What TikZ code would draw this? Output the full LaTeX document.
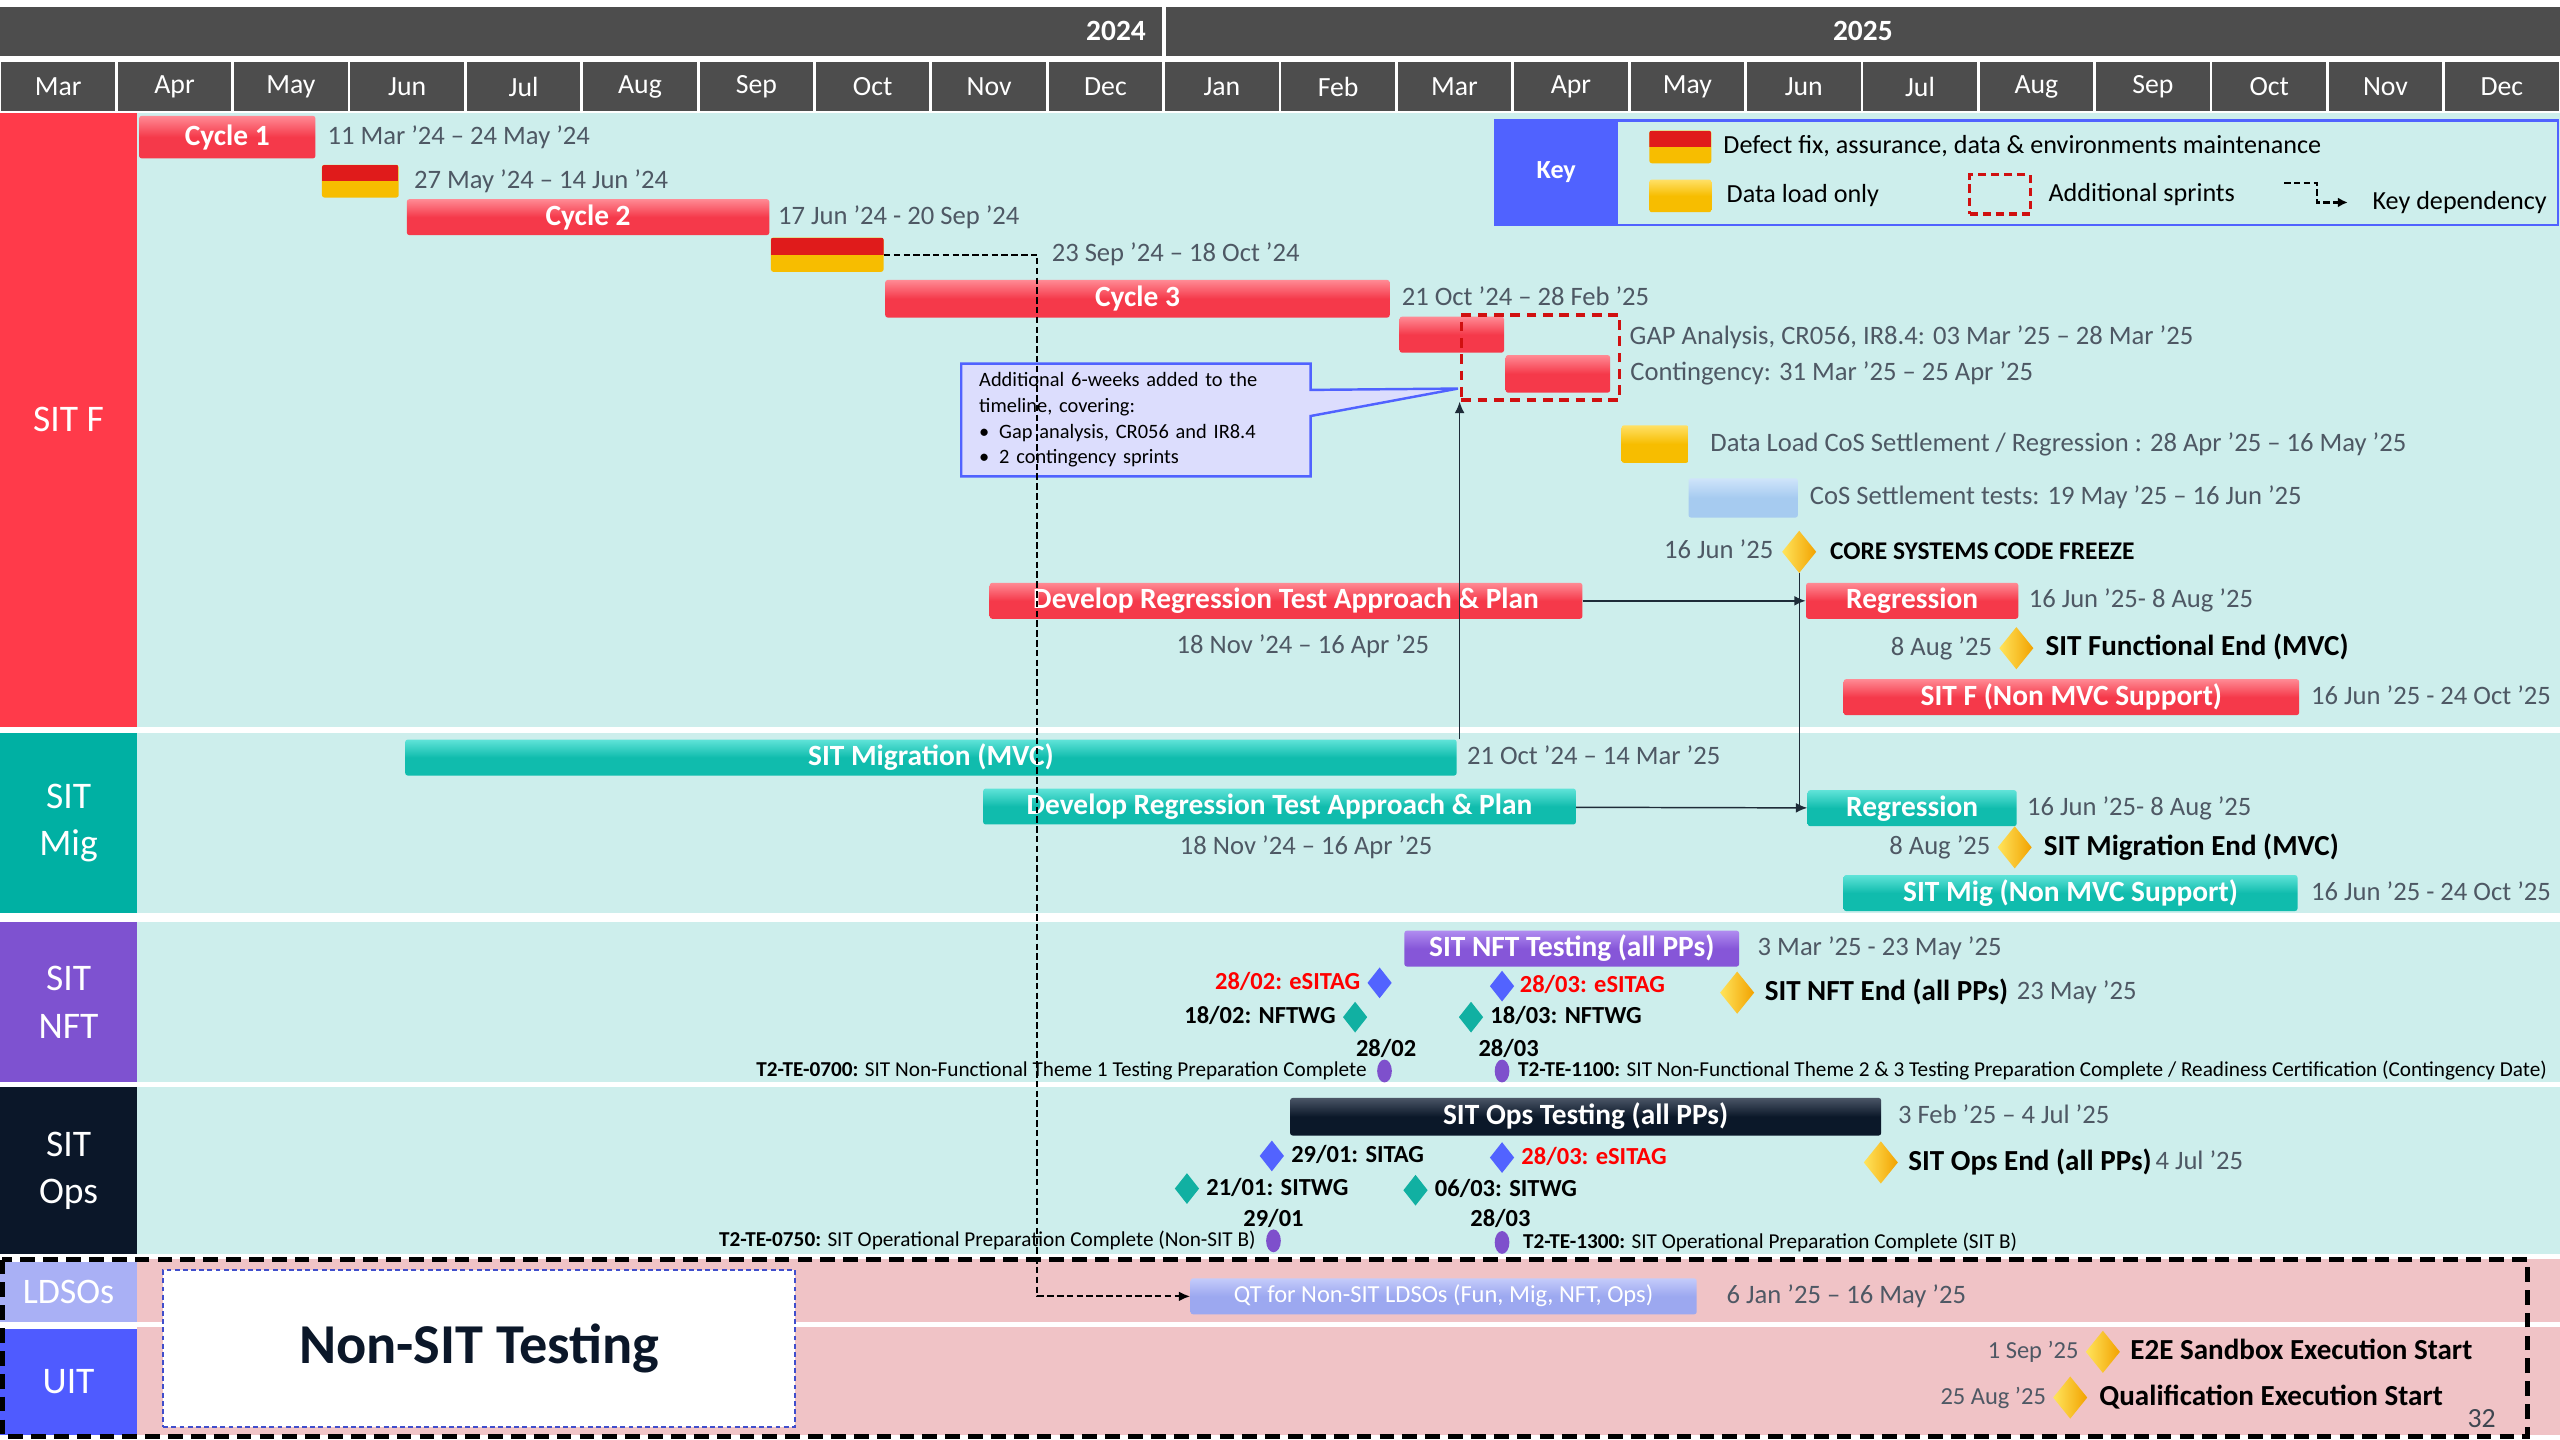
\documentclass[tikz,border=0pt]{standalone}
\usepackage{fontspec}
\setmainfont{Carlito}
\usepackage{tikz}
\usetikzlibrary{positioning, arrows.meta, shapes.geometric, shapes.callouts}

\definecolor{hdr}{HTML}{4D4D4D}
\definecolor{lane}{HTML}{CDEEEC}
\definecolor{pinklane}{HTML}{F0C3C6}
\definecolor{sitf}{HTML}{FF3A4A}
\definecolor{sitmig}{HTML}{00B0A3}
\definecolor{sitnft}{HTML}{7E52D0}
\definecolor{sitops}{HTML}{0B1729}
\definecolor{ldso}{HTML}{A9B0F5}
\definecolor{uit}{HTML}{4F5BFF}
\definecolor{rbarc}{HTML}{F5394A}
\definecolor{rbarlt}{HTML}{FF8A94}
\definecolor{tbarc}{HTML}{10BCAD}
\definecolor{tbarlt}{HTML}{5FE3D8}
\definecolor{pbarc}{HTML}{8656D8}
\definecolor{pbarlt}{HTML}{B08CF0}
\definecolor{obarc}{HTML}{0B1829}
\definecolor{obarlt}{HTML}{4A5566}
\definecolor{qbarc}{HTML}{9CA8F0}
\definecolor{qbarlt}{HTML}{C4CBFA}
\definecolor{cosc}{HTML}{A6CBF0}
\definecolor{coslt}{HTML}{CFE4FA}
\definecolor{dfred}{HTML}{E01B1B}
\definecolor{dfyel}{HTML}{F7BD00}
\definecolor{ylwlt}{HTML}{FFE066}
\definecolor{goldlt}{HTML}{FFE45C}
\definecolor{golddk}{HTML}{F2A200}
\definecolor{dgray}{HTML}{4E5864}
\definecolor{keyblue}{HTML}{5062FF}
\definecolor{notefill}{HTML}{DCDDFD}
\definecolor{msblue}{HTML}{5263FF}
\definecolor{msteal}{HTML}{11B0A2}
\definecolor{mspurp}{HTML}{7E50CC}
\definecolor{arrowc}{HTML}{1E2B38}
\definecolor{addred}{HTML}{D01010}

\begin{document}
\begin{tikzpicture}[x=1pt, y=-1pt, inner sep=0pt,
	month/.style={fill=hdr, text=white, minimum width=69.6pt, minimum height=30pt, font=\fontsize{17}{20}\selectfont},
	lanelab/.style={text=white, minimum width=84pt, align=center, font=\fontsize{23}{29}\selectfont},
	bar/.style={anchor=west, rounded corners=1.5pt, minimum height=22pt, text=white, text height=13.5pt, text depth=3.5pt, font=\fontsize{18}{20}\selectfont\bfseries},
	rbar/.style={bar, top color=rbarlt, bottom color=rbarc, middle color=rbarc},
	tbar/.style={bar, top color=tbarlt, bottom color=tbarc, middle color=tbarc},
	pbar/.style={bar, top color=pbarlt, bottom color=pbarc, middle color=pbarc},
	obar/.style={bar, top color=obarlt, bottom color=obarc, middle color=obarc},
	dfbar/.style={anchor=west, rounded corners=1.5pt, minimum height=20pt, fill=dfyel, path picture={\fill[dfred, sharp corners] (path picture bounding box.north west) rectangle (path picture bounding box.east);}},
	ylbar/.style={anchor=west, rounded corners=1.5pt, minimum height=21pt, top color=ylwlt, bottom color=dfyel, middle color=dfyel},
	date/.style={anchor=west, text=dgray, text height=11.5pt, text depth=3pt, font=\fontsize{16.3}{19}\selectfont},
	ms/.style={diamond, minimum width=21pt, minimum height=26pt, left color=goldlt, right color=golddk},
	msb/.style={diamond, minimum width=15pt, minimum height=19pt, fill=msblue},
	mst/.style={diamond, minimum width=15pt, minimum height=19pt, fill=msteal},
	mse/.style={ellipse, minimum width=9pt, minimum height=14pt, fill=mspurp},
	mstext/.style={text height=13pt, text depth=3.5pt, font=\fontsize{17.8}{20}\selectfont\bfseries},
	tag/.style={text height=11pt, text depth=3pt, font=\fontsize{15}{17}\selectfont\bfseries},
	tt/.style={text height=9.5pt, text depth=2.5pt, font=\fontsize{13}{15}\selectfont},
	dep/.style={draw=arrowc, line width=0.9pt, -{Latex[length=7pt, width=6pt]}}
]
	\fill[white] (0,0) rectangle (1568,882);
	\useasboundingbox (0,0) rectangle (1568,882);

	\node[fill=hdr, minimum width=711.5pt, minimum height=30pt, anchor=west] (yr24) at (0,19) {};
	\node[fill=hdr, minimum width=854pt, minimum height=30pt, anchor=west] (yr25) at (714,19) {};
	\node[text=white, font=\fontsize{18}{20}\selectfont\bfseries, anchor=east] (t24) at (702,19) {2024};
	\node[text=white, font=\fontsize{18}{20}\selectfont\bfseries] (t25) at (1141,19) {2025};

	\node[month] (m0) at (35.6,53) {Mar};
	\node[month] (m1) at (106.9,53) {Apr};
	\node[month] (m2) at (178.2,53) {May};
	\node[month] (m3) at (249.4,53) {Jun};
	\node[month] (m4) at (320.7,53) {Jul};
	\node[month] (m5) at (392.0,53) {Aug};
	\node[month] (m6) at (463.3,53) {Sep};
	\node[month] (m7) at (534.5,53) {Oct};
	\node[month] (m8) at (605.8,53) {Nov};
	\node[month] (m9) at (677.1,53) {Dec};
	\node[month] (m10) at (748.4,53) {Jan};
	\node[month] (m11) at (819.6,53) {Feb};
	\node[month] (m12) at (890.9,53) {Mar};
	\node[month] (m13) at (962.2,53) {Apr};
	\node[month] (m14) at (1033.5,53) {May};
	\node[month] (m15) at (1104.8,53) {Jun};
	\node[month] (m16) at (1176.0,53) {Jul};
	\node[month] (m17) at (1247.3,53) {Aug};
	\node[month] (m18) at (1318.6,53) {Sep};
	\node[month] (m19) at (1389.9,53) {Oct};
	\node[month] (m20) at (1461.1,53) {Nov};
	\node[month] (m21) at (1532.4,53) {Dec};

	\fill[lane] (84,69) rectangle (1568,445);
	\fill[lane] (84,449) rectangle (1568,559);
	\fill[lane] (84,565) rectangle (1568,663);
	\fill[lane] (84,666) rectangle (1568,768);
	\fill[pinklane] (84,771) rectangle (1568,810);
	\fill[pinklane] (84,813) rectangle (1568,879);
	\node[lanelab, fill=sitf, minimum height=376pt] (lf) at (42,257) {SIT F};
	\node[lanelab, fill=sitmig, minimum height=110pt] (lm) at (42,504) {SIT\\Mig};
	\node[lanelab, fill=sitnft, minimum height=98pt] (ln) at (42,614) {SIT\\NFT};
	\node[lanelab, fill=sitops, minimum height=102pt] (lo) at (42,717) {SIT\\Ops};
	\node[lanelab, fill=ldso, minimum height=37pt, font=\fontsize{22}{26}\selectfont] (ll) at (42,791.5) {LDSOs};
	\node[lanelab, fill=uit, minimum height=65pt] (lu) at (42,846.5) {UIT};
	\draw[line width=3pt, dash pattern=on 9pt off 5pt] (1.5,771.5) rectangle (1548,880);

	\node[draw=keyblue, line width=1.5pt, fill=lane, minimum width=651pt, minimum height=64pt, anchor=north west] (key) at (915,73) {};
	\node[fill=keyblue, minimum width=76pt, minimum height=64pt, anchor=north west, text=white, font=\fontsize{16}{18}\selectfont\bfseries] (keyl) at (915,73) {Key};
	\node[dfbar, minimum width=38pt] (kdf) at (1010,90) {};
	\node[date, text=black, font=\fontsize{16}{19}\selectfont, right=7pt of kdf] (kdft) {Defect fix, assurance, data \& environments maintenance};
	\node[ylbar, minimum width=38pt, minimum height=20pt] (kdl) at (1010,120) {};
	\node[date, text=black, font=\fontsize{16}{19}\selectfont, right=9pt of kdl] (kdlt) {Data load only};
	\node[draw=addred, dashed, dash pattern=on 5pt off 3pt, line width=2pt, minimum width=37pt, minimum height=24pt] (kadd) at (1225,119) {};
	\node[date, text=black, font=\fontsize{16}{19}\selectfont, right=10pt of kadd] (kaddt) {Additional sprints};
	\coordinate (kd1) at (1399,112);
	\coordinate (kd2) at (1438,124);
	\draw[line width=1.3pt, dash pattern=on 4pt off 2pt, -{Latex[length=6pt, width=6pt]}] (kd1) -- ++(20,0) |- (kd2);
	\node[date, text=black, font=\fontsize{16}{19}\selectfont, right=15pt of kd2] (kdt) {Key dependency};

	\node[rbar, minimum width=108pt, minimum height=26pt] (c1) at (85,84) {Cycle 1};
	\node[date, right=7pt of c1] (c1d) {11 Mar '24 -- 24 May '24};
	\node[dfbar, minimum width=47pt] (df1) at (197,111) {};
	\node[date, right=9pt of df1] (df1d) {27 May '24 -- 14 Jun '24};
	\node[rbar, minimum width=222pt] (c2) at (249,133) {Cycle 2};
	\node[date, right=5pt of c2] (c2d) {17 Jun '24 - 20 Sep '24};
	\node[dfbar, minimum width=69pt, minimum height=21pt] (df2) at (472,156) {};
	\node[date] (df2d) at (644,156) {23 Sep '24 -- 18 Oct '24};
	\node[rbar, minimum width=309pt, minimum height=23pt] (c3) at (542,183) {Cycle 3};
	\node[date, right=7pt of c3] (c3d) {21 Oct '24 -- 28 Feb '25};
	\node[rbar, minimum width=64pt] (gap) at (857,205) {};
	\node[date] (gapd) at (998,207) {GAP Analysis, CR056, IR8.4: 03 Mar '25 -- 28 Mar '25};
	\node[rbar, minimum width=64pt, minimum height=23pt] (cont) at (922,229) {};
	\node[date, right=12pt of cont] (contd) {Contingency: 31 Mar '25 -- 25 Apr '25};
	\node[draw=addred, dashed, dash pattern=on 6pt off 4pt, line width=2pt, minimum width=97pt, minimum height=52pt, anchor=north west] (addbox) at (894,192) {};
	\node[rectangle callout, callout absolute pointer={(893,238)}, callout pointer width=16pt, draw=keyblue, line width=1.5pt, fill=notefill, text width=192pt, minimum height=69pt, inner xsep=11pt, inner ysep=5pt, align=left, anchor=north west, font=\fontsize{12.5}{15.7}\selectfont] (note) at (588,222) {Additional 6-weeks added to the\\timeline, covering:\\\textbullet\hspace{6pt}Gap analysis, CR056 and IR8.4\\\textbullet\hspace{6pt}2 contingency sprints};
	\node[ylbar, minimum width=41pt, minimum height=23pt] (dl) at (993,272) {};
	\node[date, right=13pt of dl] (dld) {Data Load CoS Settlement / Regression : 28 Apr '25 -- 16 May '25};
	\node[anchor=west, rounded corners=1.5pt, minimum width=67pt, minimum height=24pt, top color=coslt, bottom color=cosc, middle color=cosc] (cos) at (1034,305) {};
	\node[date, right=7pt of cos] (cosd) {CoS Settlement tests: 19 May '25 -- 16 Jun '25};
	\node[ms] (freeze) at (1102,338) {};
	\node[date, left=5pt of freeze] (freezed) {16 Jun '25};
	\node[mstext, right=8pt of freeze, font=\fontsize{15.6}{18}\selectfont\bfseries] (freezet) {CORE SYSTEMS CODE FREEZE};
	\node[rbar, minimum width=363pt] (drf) at (606,368) {Develop Regression Test Approach \& Plan};
	\node[date, anchor=center] (drfd) at (798,396) {18 Nov '24 -- 16 Apr '25};
	\node[rbar, minimum width=130pt] (regf) at (1106,368) {Regression};
	\node[date, right=6pt of regf] (regfd) {16 Jun '25- 8 Aug '25};
	\node[ms] (endf) at (1235,397) {};
	\node[date, left=4pt of endf] (endfd) {8 Aug '25};
	\node[mstext, right=7pt of endf] (endft) {SIT Functional End (MVC)};
	\node[rbar, minimum width=279pt] (nmf) at (1129,427) {SIT F (Non MVC Support)};
	\node[date, right=7pt of nmf] (nmfd) {16 Jun '25 - 24 Oct '25};

	\node[tbar, minimum width=644pt] (migm) at (248,464) {SIT Migration (MVC)};
	\node[date, right=6pt of migm] (migmd) {21 Oct '24 -- 14 Mar '25};
	\node[tbar, minimum width=363pt] (drm) at (602,494) {Develop Regression Test Approach \& Plan};
	\node[date, anchor=center] (drmd) at (800,519) {18 Nov '24 -- 16 Apr '25};
	\node[tbar, minimum width=128pt] (regm) at (1107,495) {Regression};
	\node[date, right=6pt of regm] (regmd) {16 Jun '25- 8 Aug '25};
	\node[ms] (endm) at (1234,519) {};
	\node[date, left=4pt of endm] (endmd) {8 Aug '25};
	\node[mstext, right=7pt of endm] (endmt) {SIT Migration End (MVC)};
	\node[tbar, minimum width=278pt] (nmm) at (1129,547) {SIT Mig (Non MVC Support)};
	\node[date, right=8pt of nmm] (nmmd) {16 Jun '25 - 24 Oct '25};

	\node[pbar, minimum width=205pt] (nft) at (860,581) {SIT NFT Testing (all PPs)};
	\node[date, right=11pt of nft] (nftd) {3 Mar '25 - 23 May '25};
	\node[msb] (a1) at (845,602) {};
	\node[tag, text=red, left=4pt of a1] (a1t) {28/02: eSITAG};
	\node[msb] (a2) at (920,604) {};
	\node[tag, text=red, right=3pt of a2] (a2t) {28/03: eSITAG};
	\node[mst] (w1) at (830,623) {};
	\node[tag, left=4pt of w1] (w1t) {18/02: NFTWG};
	\node[mst] (w2) at (901,623) {};
	\node[tag, right=4pt of w2] (w2t) {18/03: NFTWG};
	\node[ms] (nftend) at (1064,608) {};
	\node[mstext, right=6pt of nftend] (nftendt) {SIT NFT End (all PPs)};
	\node[date, right=5pt of nftendt] (nftendd) {23 May '25};
	\node[tag] (e1d) at (849,643) {28/02};
	\node[tag] (e2d) at (924,643) {28/03};
	\node[mse] (e1) at (848,656) {};
	\node[tt, left=6pt of e1] (e1t) {\textbf{T2-TE-0700:} SIT Non-Functional Theme 1 Testing Preparation Complete};
	\node[mse] (e2) at (920,656) {};
	\node[tt, right=5pt of e2] (e2t) {\textbf{T2-TE-1100:} SIT Non-Functional Theme 2 \& 3 Testing Preparation Complete / Readiness Certification (Contingency Date)};

	\node[obar, minimum width=362pt, minimum height=23pt] (ops) at (790,684) {SIT Ops Testing (all PPs)};
	\node[date, right=10pt of ops] (opsd) {3 Feb '25 -- 4 Jul '25};
	\node[msb] (b1) at (779,708) {};
	\node[tag, right=4pt of b1] (b1t) {29/01: SITAG};
	\node[msb] (b2) at (920,709) {};
	\node[tag, text=red, right=4pt of b2] (b2t) {28/03: eSITAG};
	\node[mst] (t1) at (727,728) {};
	\node[tag, right=4pt of t1] (t1t) {21/01: SITWG};
	\node[mst] (t2) at (867,729) {};
	\node[tag, right=4pt of t2] (t2t) {06/03: SITWG};
	\node[ms] (opsend) at (1152,712) {};
	\node[mstext, right=6pt of opsend] (opsendt) {SIT Ops End (all PPs)};
	\node[date, right=2pt of opsendt] (opsendd) {4 Jul '25};
	\node[tag] (p1d) at (780,747) {29/01};
	\node[tag] (p2d) at (919,747) {28/03};
	\node[mse] (p1) at (780,760) {};
	\node[tt, left=6pt of p1] (p1t) {\textbf{T2-TE-0750:} SIT Operational Preparation Complete (Non-SIT B)};
	\node[mse] (p2) at (920,761) {};
	\node[tt, right=8pt of p2] (p2t) {\textbf{T2-TE-1300:} SIT Operational Preparation Complete (SIT B)};

	\node[bar, minimum width=310pt, top color=qbarlt, bottom color=qbarc, middle color=qbarc, text height=11pt, font=\fontsize{15}{17}\selectfont] (qt) at (729,794) {QT for Non-SIT LDSOs (Fun, Mig, NFT, Ops)};
	\node[date, right=18pt of qt] (qtd) {6 Jan '25 -- 16 May '25};
	\node[draw=keyblue!80!black, line width=1.2pt, dash pattern=on 3pt off 2pt, fill=white, minimum width=387pt, minimum height=96pt, text=sitops, font=\fontsize{34.5}{38}\selectfont\bfseries] (nonsit) at (293.5,826) {Non-SIT Testing};
	\node[ms] (e2e) at (1288,828) {};
	\node[date, left=4pt of e2e, font=\fontsize{15}{17}\selectfont] (e2ed) {1 Sep '25};
	\node[mstext, right=6pt of e2e] (e2et) {E2E Sandbox Execution Start};
	\node[ms] (qual) at (1268,856) {};
	\node[date, left=4pt of qual, font=\fontsize{15}{17}\selectfont] (quald) {25 Aug '25};
	\node[mstext, right=7pt of qual] (qualt) {Qualification Execution Start};
	\node[text=dgray!80!black, font=\fontsize{17}{20}\selectfont] (pg) at (1520,869) {32};

	\draw[dep] (drf) -- (regf);
	\draw[dep] (drm) -- (regm);
	\draw[draw=arrowc, line width=0.8pt] (freeze.south) -- (freeze.south |- regm.west);
	\draw[dep] (addbox.south west |- migm.north) -- (addbox.south west);
	\draw[line width=1.2pt, dash pattern=on 4pt off 2pt, -{Latex[length=7pt, width=6pt]}] (df2.east) -- ++(94,0) |- (qt.west);
\end{tikzpicture}
\end{document}
